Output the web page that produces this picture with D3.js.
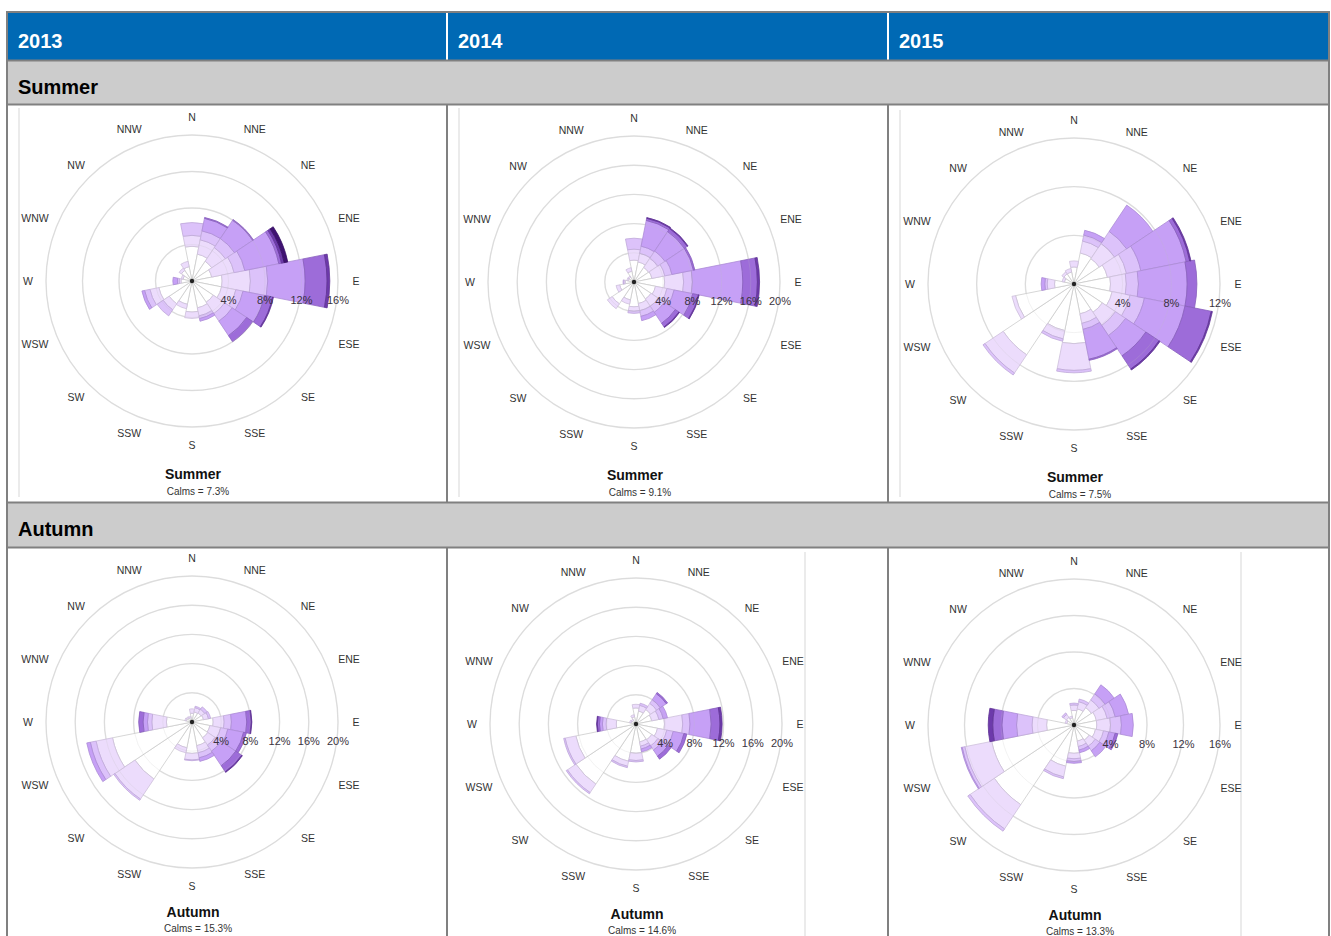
<!DOCTYPE html>
<html>
<head>
<meta charset="utf-8">
<script src="https://cdn.jsdelivr.net/npm/d3@7"></script>
<style>
  body { margin: 0; background: #ffffff; }
  svg { display: block; font-family: "Liberation Sans", Arial, Helvetica, sans-serif; }
</style>
</head>
<body>
<svg id="chart" width="1331" height="936"></svg>
<script>
// ---- data -------------------------------------------------------------
const directions = ["N","NNE","NE","ENE","E","ESE","SE","SSE","S","SSW","SW","WSW","W","WNW","NW","NNW"];
const years = ["2013", "2014", "2015"];
const seasons = ["Summer", "Autumn"];

// Frequency (%) per direction, split into seven wind-speed classes (lightest first)
const summer2013 = [
  [3.8, 1.2, 1.4, 0,   0,   0,   0  ],
  [3.0, 1.6, 1.0, 1.4, 0.1, 0,   0  ],
  [2.6, 1.8, 1.2, 2.4, 0.1, 0,   0  ],
  [2.2, 2.5, 1.2, 3.8, 0.3, 0.3, 0.4],
  [3.3, 3.1, 1.9, 4.1, 2.4, 0.3, 0  ],
  [3.3, 1.6, 0.8, 2.4, 0.9, 0.1, 0  ],
  [2.8, 1.5, 1.0, 1.9, 0.8, 0,   0  ],
  [3.0, 0.9, 0.3, 0.3, 0,   0,   0  ],
  [3.4, 0.7, 0,   0,   0,   0,   0  ],
  [2.6, 0.5, 0,   0,   0,   0,   0  ],
  [3.0, 0.8, 0.8, 0,   0,   0,   0  ],
  [3.7, 1.0, 0.6, 0.3, 0,   0,   0  ],
  [1.2, 0.2, 0.2, 0.5, 0,   0,   0  ],
  [1.0, 0.2, 0,   0,   0,   0,   0  ],
  [1.4, 0.3, 0,   0,   0,   0,   0  ],
  [1.6, 0.6, 0,   0,   0,   0,   0  ]
];
const summer2014 = [
  [3.0, 1.5, 1.5, 0,   0,   0,   0],
  [2.8, 1.2, 1.0, 3.6, 0.3, 0.1, 0],
  [2.4, 1.5, 1.2, 3.2, 0.5, 0.1, 0],
  [2.5, 1.8, 1.0, 3.0, 0.2, 0,   0],
  [4.2, 2.6, 1.2, 6.9, 2.0, 0.3, 0],
  [3.0, 1.6, 1.0, 2.6, 0.8, 0.1, 0],
  [2.8, 1.2, 1.0, 1.8, 0.6, 0.1, 0],
  [3.0, 1.0, 0.8, 0.6, 0,   0,   0],
  [3.4, 0.6, 0.3, 0,   0,   0,   0],
  [2.5, 0.6, 0,   0,   0,   0,   0],
  [3.6, 0.8, 0,   0,   0,   0,   0],
  [2.0, 0.5, 0,   0,   0,   0,   0],
  [1.2, 0.2, 0.1, 0,   0,   0,   0],
  [0.8, 0.2, 0,   0,   0,   0,   0],
  [0.8, 0.2, 0,   0,   0,   0,   0],
  [1.5, 0.5, 0,   0,   0,   0,   0]
];
const summer2015 = [
  [1.4, 0.5, 0,   0,   0,   0,   0],
  [2.6, 1.0, 0.5, 0.4, 0,   0,   0],
  [2.5, 1.5, 1.2, 2.6, 0,   0,   0],
  [2.8, 1.6, 1.2, 3.8, 0.3, 0.1, 0],
  [3.0, 1.3, 1.0, 4.0, 0.8, 0,   0],
  [3.2, 1.5, 1.2, 3.4, 2.2, 0.1, 0],
  [2.8, 1.3, 1.0, 2.0, 1.3, 0.1, 0],
  [2.5, 0.8, 0.5, 2.5, 0.1, 0,   0],
  [4.9, 2.2, 0.2, 0,   0,   0,   0],
  [3.9, 0.7, 0.2, 0,   0,   0,   0],
  [7.0, 1.8, 0.2, 0,   0,   0,   0],
  [4.9, 0.3, 0,   0,   0,   0,   0],
  [1.6, 0.6, 0.2, 0.3, 0,   0,   0],
  [0.8, 0.2, 0,   0,   0,   0,   0],
  [1.0, 0.2, 0,   0,   0,   0,   0],
  [1.0, 0.3, 0,   0,   0,   0,   0]
];
const autumn2013 = [
  [1.2, 0.6, 0,   0,   0,   0,   0],
  [1.4, 0.6, 0.2, 0,   0,   0,   0],
  [1.5, 0.6, 0.4, 0,   0,   0,   0],
  [1.6, 0.7, 0.3, 0,   0,   0,   0],
  [2.9, 1.5, 1.0, 2.1, 0.6, 0.1, 0],
  [2.5, 1.5, 1.0, 2.2, 0.4, 0,   0],
  [2.6, 1.2, 1.0, 2.4, 1.0, 0.1, 0],
  [3.3, 1.0, 0.7, 0.5, 0,   0,   0],
  [4.3, 0.9, 0.1, 0,   0,   0,   0],
  [3.6, 0.7, 0,   0,   0,   0,   0],
  [9.4, 3.3, 0.2, 0,   0,   0,   0],
  [11.1, 2.3, 0.8, 0.5, 0,  0,   0],
  [3.5, 2.0, 0.6, 0.6, 0.6, 0,   0],
  [0.8, 0.2, 0,   0,   0,   0,   0],
  [0.7, 0.2, 0,   0,   0,   0,   0],
  [0.6, 0.2, 0,   0,   0,   0,   0]
];
const autumn2014 = [
  [2.2, 0.5, 0,   0,   0,   0,   0],
  [1.8, 0.8, 0.3, 0,   0,   0,   0],
  [2.4, 1.0, 0.6, 1.0, 0.2, 0,   0],
  [2.2, 1.0, 0.6, 0.6, 0,   0,   0],
  [3.9, 2.5, 1.0, 2.9, 1.2, 0.3, 0],
  [3.0, 1.3, 0.9, 1.5, 0.4, 0,   0],
  [2.6, 1.0, 0.7, 1.0, 0.5, 0,   0],
  [2.5, 0.6, 0.4, 0.4, 0,   0,   0],
  [4.0, 1.0, 0.2, 0,   0,   0,   0],
  [5.2, 0.7, 0.2, 0,   0,   0,   0],
  [9.9, 1.4, 0.2, 0,   0,   0,   0],
  [8.4, 1.5, 0.2, 0,   0,   0,   0],
  [2.7, 1.4, 0.5, 0.4, 0.3, 0.1, 0],
  [0.7, 0.2, 0,   0,   0,   0,   0],
  [0.6, 0.2, 0,   0,   0,   0,   0],
  [1.0, 0.3, 0,   0,   0,   0,   0]
];
const autumn2015 = [
  [1.6, 0.6, 0.2, 0,   0,   0,   0],
  [1.8, 0.8, 0.3, 0,   0,   0,   0],
  [2.3, 1.0, 0.8, 1.2, 0,   0,   0],
  [2.5, 1.2, 0.9, 1.5, 0,   0,   0],
  [2.5, 1.5, 1.2, 1.3, 0,   0,   0],
  [2.4, 0.9, 0.6, 0.7, 0.3, 0,   0],
  [2.0, 0.8, 0.6, 0.8, 0,   0,   0],
  [1.8, 0.6, 0.4, 0.3, 0,   0,   0],
  [3.1, 0.6, 0.3, 0.2, 0,   0,   0],
  [4.6, 1.2, 0.2, 0,   0,   0,   0],
  [10.5, 3.2, 0.3, 0,  0,   0,   0],
  [9.2, 3.0, 0.3, 0.1, 0,   0,   0],
  [3.0, 1.6, 1.7, 1.6, 1.0, 0.5, 0],
  [0.8, 0.2, 0,   0,   0,   0,   0],
  [1.0, 0.4, 0.2, 0,   0,   0,   0],
  [0.8, 0.2, 0,   0,   0,   0,   0]
];

const calmsSummer = [7.3, 9.1, 7.5];
const calmsAutumn = [15.3, 14.6, 13.3];
const ringTicksSummer = [[4, 8, 12, 16], [4, 8, 12, 16, 20], [4, 8, 12]];
const ringTicksAutumn = [[4, 8, 12, 16, 20], [4, 8, 12, 16, 20], [4, 8, 12, 16]];

// ---- styling ----------------------------------------------------------
const speedColours = ["#ffffff", "#ecdcfc", "#dcc2fa", "#c6a0f6", "#9d6cd9", "#6d3aab", "#3f1272"];
const fontStack = '"Liberation Sans", Arial, Helvetica, sans-serif';

const svg = d3.select("#chart");

// ---- table frame ------------------------------------------------------
const colEdges = [7, 447, 888, 1329];
const rowHeader = [12, 60], rowSummerLabel = [61, 104], rowSummerBody = [105, 502],
      rowAutumnLabel = [503, 547], rowAutumnBody = [548, 940];

svg.append("rect").attr("x", colEdges[0]).attr("y", rowHeader[0])
  .attr("width", colEdges[3] - colEdges[0]).attr("height", rowHeader[1] - rowHeader[0])
  .attr("fill", "#0069b4");
[rowSummerLabel, rowAutumnLabel].forEach(r => {
  svg.append("rect").attr("x", colEdges[0]).attr("y", r[0])
    .attr("width", colEdges[3] - colEdges[0]).attr("height", r[1] - r[0])
    .attr("fill", "#cccccc");
});

// header separators (white) and body separators (grey)
[1, 2].forEach(i => {
  svg.append("line").attr("x1", colEdges[i]).attr("x2", colEdges[i])
    .attr("y1", rowHeader[0]).attr("y2", rowHeader[1])
    .attr("stroke", "#ffffff").attr("stroke-width", 2);
  [rowSummerBody, rowAutumnBody].forEach(r => {
    svg.append("line").attr("x1", colEdges[i]).attr("x2", colEdges[i])
      .attr("y1", r[0] - 1).attr("y2", r[1])
      .attr("stroke", "#808080").attr("stroke-width", 2);
  });
});
[rowHeader[1], rowSummerLabel[1], rowSummerBody[1], rowAutumnLabel[1]].forEach(y => {
  svg.append("line").attr("x1", colEdges[0]).attr("x2", colEdges[3])
    .attr("y1", y + 0.5).attr("y2", y + 0.5)
    .attr("stroke", "#808080").attr("stroke-width", 2);
});
svg.append("path")
  .attr("d", `M${colEdges[0]},940 V${rowHeader[0]} H${colEdges[3]} V940`)
  .attr("fill", "none").attr("stroke", "#808080").attr("stroke-width", 2);

years.forEach((y, i) => {
  svg.append("text").attr("x", colEdges[i] + 11).attr("y", 48)
    .attr("fill", "#ffffff").attr("font-weight", "bold").attr("font-size", 20)
    .attr("font-family", fontStack).text(y);
});
[[seasons[0], rowSummerLabel], [seasons[1], rowAutumnLabel]].forEach(([s, r]) => {
  svg.append("text").attr("x", 18).attr("y", r[0] + 33)
    .attr("fill", "#000000").attr("font-weight", "bold").attr("font-size", 20)
    .attr("font-family", fontStack).text(s);
});

// faint edges of the embedded plot images
[[19, 108, 497], [459, 108, 497], [900, 110, 497], [805, 552, 936], [1241, 552, 936]].forEach(([x, y1, y2]) => {
  svg.append("line").attr("x1", x).attr("x2", x).attr("y1", y1).attr("y2", y2)
    .attr("stroke", "#e4e4e4").attr("stroke-width", 1.5);
});

// ---- wind rose --------------------------------------------------------
const outerRadius = 146;
const labelRadius = 164;
const angle = d3.scaleLinear().domain([0, directions.length]).range([0, 2 * Math.PI]);
const halfWidth = Math.PI / directions.length;
const stack = d3.stack().keys(d3.range(speedColours.length)).value((d, k) => d[k]);
// three-letter labels beside the horizontal get nudged sideways so they clear the outer ring
const labelNudge = i => ([3, 5].includes(i) ? 5.5 : [11, 13].includes(i) ? -5.5 : 0);

function drawRose(cx, cy, data, ticks, calms, season, titleDy, calmsDy) {
  const g = svg.append("g").attr("transform", `translate(${cx},${cy})`);
  const r = d3.scaleLinear().domain([0, ticks[ticks.length - 1]]).range([0, outerRadius]);

  // grid rings below the bars
  g.selectAll("circle.grid").data(ticks).join("circle")
    .attr("class", "grid").attr("r", d => r(d))
    .attr("fill", "none").attr("stroke", "#e3e3e3").attr("stroke-width", 1.4);

  const arc = d3.arc()
    .innerRadius(d => r(d[0]))
    .outerRadius(d => r(d[1]))
    .startAngle(d => angle(d.i) - halfWidth)
    .endAngle(d => angle(d.i) + halfWidth);

  const layers = stack(data);
  layers.forEach((layer, k) => {
    const segs = layer.map((d, i) => Object.assign([d[0], d[1]], { i }))
      .filter(d => d[1] - d[0] > 0);
    g.append("g").selectAll("path").data(segs).join("path")
      .attr("d", arc)
      .attr("fill", speedColours[k])
      .attr("stroke", k === 0 ? "#cccccc" : d3.color(speedColours[k]).darker(0.4))
      .attr("stroke-width", 0.8)
      .attr("stroke-linejoin", "round");
  });

  // rings shown faintly through the bars
  g.selectAll("circle.over").data(ticks).join("circle")
    .attr("class", "over").attr("r", d => r(d))
    .attr("fill", "none").attr("stroke", "#bdbdbd").attr("stroke-opacity", 0.2)
    .attr("stroke-width", 1);

  g.append("circle").attr("r", 2.2).attr("fill", "#222222");

  g.selectAll("text.tick").data(ticks).join("text")
    .attr("class", "tick")
    .attr("x", d => r(d)).attr("y", 19)
    .attr("text-anchor", "middle").attr("dominant-baseline", "central")
    .attr("font-size", 11).attr("font-family", fontStack).attr("fill", "#3a3340")
    .text(d => d + "%");

  g.selectAll("text.dir").data(directions).join("text")
    .attr("class", "dir")
    .attr("x", (d, i) => labelRadius * Math.sin(angle(i)) + labelNudge(i))
    .attr("y", (d, i) => -labelRadius * Math.cos(angle(i)))
    .attr("text-anchor", "middle").attr("dominant-baseline", "central")
    .attr("font-size", 10.5).attr("font-family", fontStack).attr("fill", "#333333")
    .text(d => d);

  g.append("text").attr("x", 1).attr("y", titleDy)
    .attr("text-anchor", "middle").attr("dominant-baseline", "central")
    .attr("font-size", 14).attr("font-weight", "bold").attr("font-family", fontStack)
    .attr("fill", "#111111").text(season);
  g.append("text").attr("x", 6).attr("y", calmsDy)
    .attr("text-anchor", "middle").attr("dominant-baseline", "central")
    .attr("font-size", 10).attr("font-family", fontStack)
    .attr("fill", "#333333").text(`Calms = ${calms}%`);
}

const summerData = [summer2013, summer2014, summer2015];
const autumnData = [autumn2013, autumn2014, autumn2015];
const summerCentres = [[192, 281], [634, 282], [1074, 284]];
const autumnCentres = [[192, 722], [636, 724], [1074, 725]];

summerData.forEach((d, i) => drawRose(summerCentres[i][0], summerCentres[i][1], d,
  ringTicksSummer[i], calmsSummer[i], seasons[0], 193, 210));
autumnData.forEach((d, i) => drawRose(autumnCentres[i][0], autumnCentres[i][1], d,
  ringTicksAutumn[i], calmsAutumn[i], seasons[1], 190, 206));
</script>
</body>
</html>
